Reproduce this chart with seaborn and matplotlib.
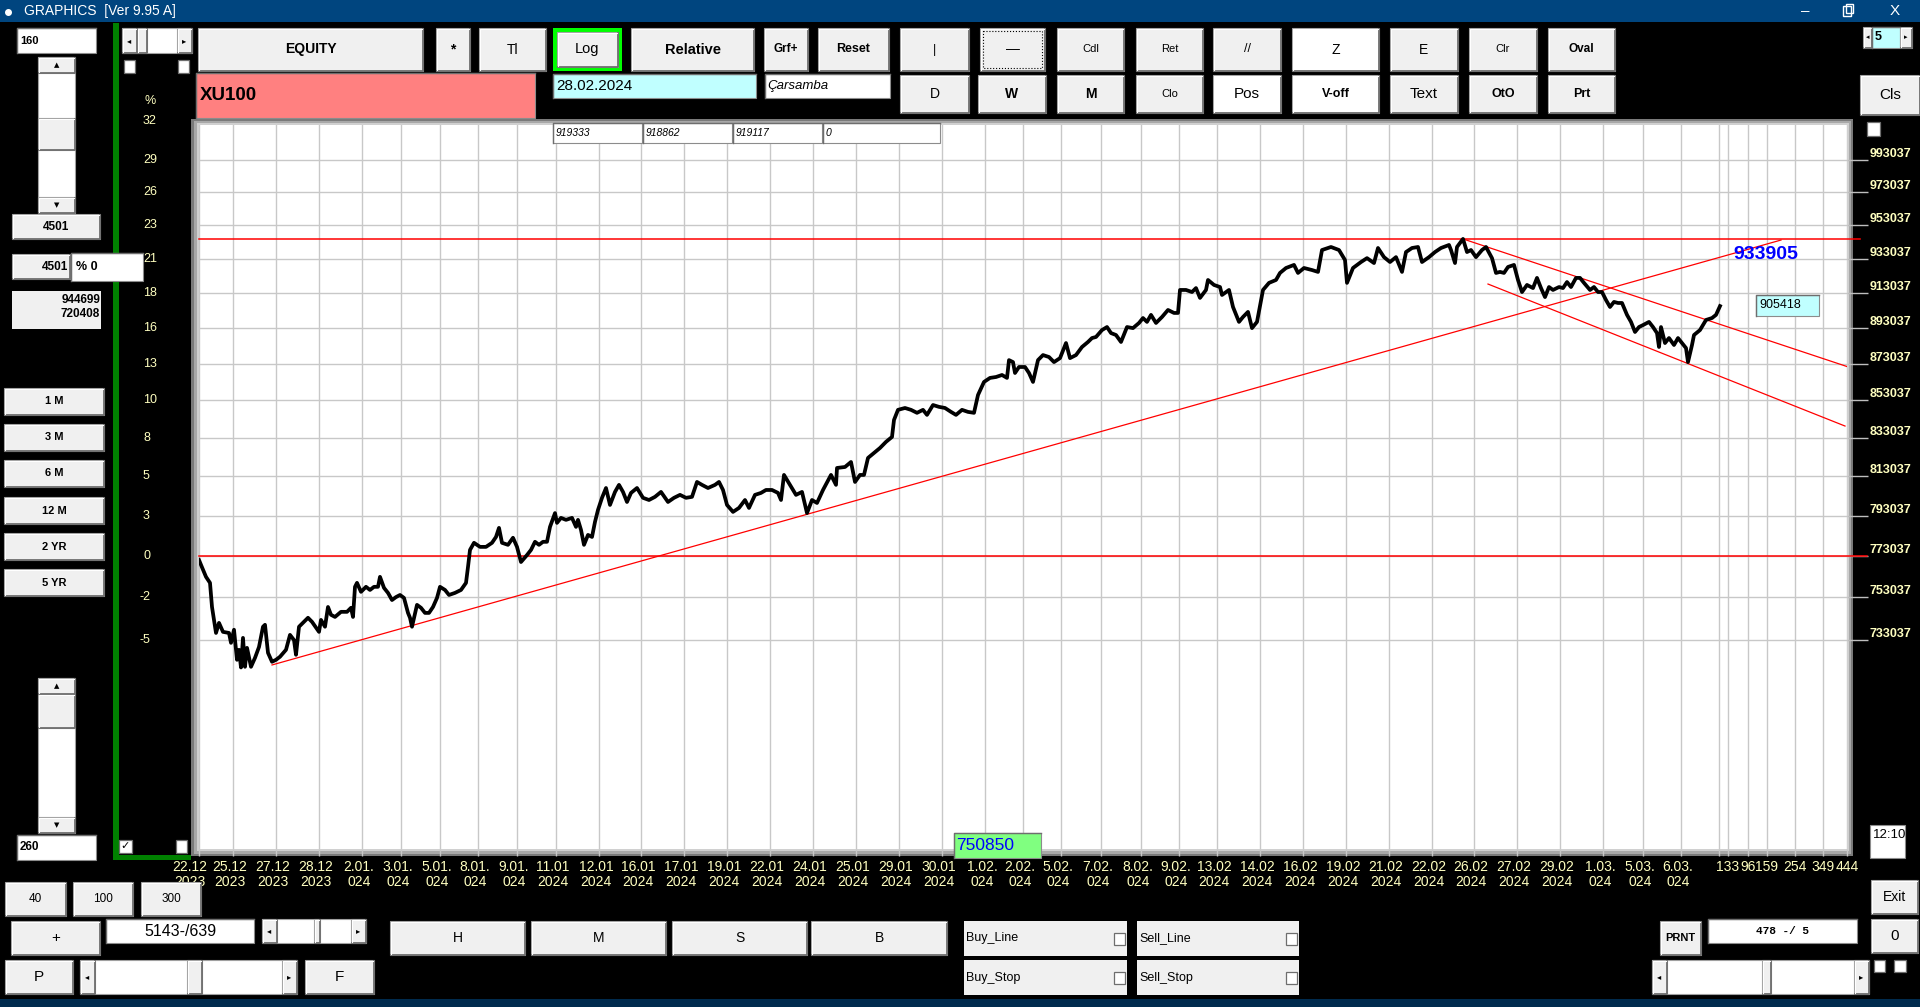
import numpy as np
import pandas as pd
import matplotlib
matplotlib.use('Agg')
import matplotlib.pyplot as plt
import matplotlib.transforms as mtransforms
from matplotlib.patches import Rectangle
from matplotlib.ticker import NullLocator, NullFormatter
import seaborn as sns

# ------------------------------------------------------------------ data
bar = [0, 2, 7, 11, 13, 17, 20, 24, 30, 32,
       35, 38, 40, 42, 44, 46, 48, 52, 56, 60,
       64, 66, 69, 73, 77, 81, 87, 91, 95, 97,
       100, 105, 109, 113, 120, 122, 126, 129, 132, 136,
       142, 148, 152, 154, 156, 158, 162, 167, 171, 175,
       179, 181, 185, 189, 193, 197, 201, 205, 209, 211,
       213, 218, 222, 226, 230, 234, 238, 241, 246, 250,
       256, 262, 267, 269, 271, 275, 281, 287, 293, 297,
       300, 303, 309, 314, 318, 322, 328, 332, 336, 340,
       344, 348, 351, 356, 358, 362, 367, 373, 377, 379,
       382, 385, 389, 393, 396, 399, 403, 407, 411, 416,
       420, 424, 428, 432, 438, 444, 450, 456, 462, 469,
       475, 481, 487, 493, 498, 503, 509, 516, 520, 524,
       528, 534, 540, 546, 550, 556, 562, 567, 573, 579,
       582, 585, 591, 597, 603, 608, 613, 618, 624, 632,
       637, 638, 646, 652, 656, 661, 665, 669, 675, 681,
       687, 693, 695, 699, 706, 712, 718, 724, 728, 734,
       740, 746, 752, 757, 763, 769, 775, 779, 785, 791,
       797, 803, 808, 810, 814, 816, 820, 826, 830, 834,
       839, 844, 850, 855, 861, 867, 871, 877, 883, 889,
       893, 897, 903, 908, 912, 917, 922, 928, 934, 940,
       944, 948, 952, 957, 963, 969, 975, 979, 981, 987,
       993, 997,
       1001, 1007, 1009, 1015, 1021, 1023, 1030, 1034, 1040, 1044,
       1049, 1053, 1058, 1064, 1070, 1077, 1081, 1087, 1095, 1099,
       1105, 1113, 1119, 1123, 1132, 1140, 1146, 1148, 1154, 1162,
       1168, 1175, 1179, 1185, 1191, 1197, 1203, 1207, 1213, 1219,
       1223, 1230, 1236, 1242, 1250, 1252, 1256, 1258, 1264, 1268,
       1272, 1277, 1283, 1287, 1293, 1297, 1301, 1305, 1309, 1315,
       1319, 1323, 1328, 1334, 1338, 1342, 1346, 1350, 1354, 1360,
       1364, 1368, 1372, 1377, 1381, 1385, 1391, 1395, 1399, 1403,
       1407, 1411, 1415, 1419, 1423, 1428, 1432, 1436, 1440, 1444,
       1450, 1454, 1458, 1460, 1462, 1466, 1470, 1475, 1479, 1483,
       1487, 1489, 1493, 1495, 1501, 1507, 1513, 1517, 1521]

price = [771100, 768700, 762900, 760000, 748500, 736300, 741000, 736800, 736300, 731700,
         737800, 723900, 728500, 720408, 734000, 720700, 729400, 720700, 724800, 729800,
         739200, 740100, 727100, 723000, 723900, 725300, 728500, 735400, 733000, 726200,
         739200, 741500, 743400, 741500, 736800, 742400, 739200, 748500, 744800, 743800,
         746200, 746200, 748100, 743800, 758100, 760000, 755700, 758100, 756600, 758100,
         758100, 762900, 757600, 755200, 751800, 753200, 754200, 752800, 745700, 743400,
         739200, 749500, 748100, 745700, 745700, 748500, 752800, 758100, 756600, 754200,
         755200, 756600, 760000, 767700, 776000, 779500, 777500, 777500, 779500, 782400,
         786900, 779500, 778500, 782000, 777500, 770100, 773500, 776000, 780000, 778500,
         780000, 780000, 787400, 794300, 789400, 791900, 790900, 791900, 787400, 790900,
         785900, 778500, 783400, 782400, 789900, 795900, 802000, 807000, 798400, 805000,
         808600, 805000, 799900, 804500, 807000, 802000, 800900, 802500, 805000, 799900,
         802000, 803500, 802000, 802500, 810100, 808600, 807000, 808600, 810100, 806000,
         798400, 794900, 796900, 800900, 796900, 803500, 804500, 806000, 806000, 804500,
         800900, 813700, 808600, 803500, 805000, 794300, 800900, 799400, 806000, 813700,
         808600, 817300, 817800, 820400, 810100, 813700, 813700, 822500, 825100, 827700,
         830900, 833500, 842500, 847900, 848900, 847900, 846300, 847900, 845200, 850500,
         849500, 848900, 846800, 845200, 847900, 846800, 846300, 855900, 863000, 865200,
         865700, 866800, 865200, 875000, 873900, 867900, 871200, 871200, 867900, 863000,
         875000, 877800, 876700, 873900, 876100, 884500, 876100, 877800, 882300, 885100,
         887300, 887900, 891800, 893500, 890100, 889000, 885100, 893500, 892900, 895800,
         898600, 896400, 900400, 895800, 899200, 903200, 901500, 901500, 914700, 914700,
         913500, 915800,
         910100, 914700, 920500, 917600, 916400, 911800, 914700, 904900, 896400, 899200,
         902100, 892900, 896400, 914700, 918800, 920500, 924600, 927500, 929300, 924600,
         927500, 926300, 925200, 938100, 939900, 938100, 932200, 918800, 927500, 931000,
         933300, 930400, 939300, 933900, 931000, 933900, 925200, 936900, 939300, 939900,
         931000, 933900, 936900, 939300, 941100, 938100, 930400, 939900, 944699, 936900,
         938100, 933900, 938100, 939900, 933300, 924600, 925200, 924600, 928100, 929300,
         920500, 913500, 917600, 915800, 921700, 915800, 910600, 916400, 914700, 916400,
         915800, 919300, 916400, 921700, 921700, 918800, 914700, 916400, 913500, 913500,
         908900, 904900, 907800, 907200, 907200, 900400, 896400, 890700, 893500, 894600,
         896400, 893500, 890100, 882300, 893500, 884500, 887300, 883400, 887300, 884500,
         881700, 873900, 883400, 889000, 891800, 897500, 898600, 900400, 905418]

date_ticks = [0, 34, 77, 120, 163, 202, 241, 279, 318, 357, 400, 442, 485, 528, 571,
              614, 657, 700, 743, 786, 824, 862, 902, 942, 980, 1018, 1061, 1104,
              1147, 1190, 1233, 1275, 1318, 1361, 1404, 1444, 1482]
date_labels = ['22.12\n2023', '25.12\n2023', '27.12\n2023', '28.12\n2023',
               '2.01.\n024', '3.01.\n024', '5.01.\n024', '8.01.\n024', '9.01.\n024',
               '11.01\n2024', '12.01\n2024', '16.01\n2024', '17.01\n2024', '19.01\n2024',
               '22.01\n2024', '24.01\n2024', '25.01\n2024', '29.01\n2024', '30.01\n2024',
               '1.02.\n024', '2.02.\n024', '5.02.\n024', '7.02.\n024', '8.02.\n024', '9.02.\n024',
               '13.02\n2024', '14.02\n2024', '16.02\n2024', '19.02\n2024', '21.02\n2024',
               '22.02\n2024', '26.02\n2024', '27.02\n2024', '29.02\n2024',
               '1.03.\n024', '5.03.\n024', '6.03.\n024']
future_ticks = [1520, 1529, 1549, 1568, 1596, 1624, 1648]
future_labels = ['', '133', '96', '159', '254', '349', '444']

price_levels = [993037, 973037, 953037, 933037, 913037, 893037, 873037, 853037,
                833037, 813037, 793037, 773037, 753037, 733037]
pct_levels = [1017800, 993037, 973037, 953037, 933037, 913037, 893037, 873037, 853037,
              833037, 813037, 793037, 773037, 753037, 733037]
pct_labels = ['32', '29', '26', '23', '21', '18', '16', '13', '10', '8', '5', '3', '0', '-2', '-5']

hline_levels = [773037, 944699]
hline_end = [1668, 1661]
trend_x = [[73, 1582], [1264, 1648], [1289, 1646]]
trend_y = [[721540, 944040], [944699, 871450], [918130, 839260]]

mark_value = '933905'
mark_pos = (1567, 935500)
last_value = '905418'
low_box_value = '750850'
max_min = ('944699', '720408')
top_boxes = ['919333', '918862', '919117', '0']

# ------------------------------------------------------------------ setup
NARROW = ['Liberation Sans Narrow', 'Liberation Sans', 'DejaVu Sans']
SANS = ['Liberation Sans', 'DejaVu Sans']
MONO = ['Liberation Mono', 'DejaVu Sans Mono']
plt.rcParams['font.family'] = SANS
YEL = '#FFFFC0'

W, H = 1920, 1007
fig = plt.figure(figsize=(19.2, 10.07), dpi=100, facecolor='black')

bg = fig.add_axes([0, 0, 1, 1], zorder=0)
bg.set_xlim(0, W); bg.set_ylim(H, 0); bg.axis('off')

ax = fig.add_axes([199 / W, 1 - 849 / H, (1847 - 199) / W, (849 - 125) / H], zorder=2)
ov = fig.add_axes([0, 0, 1, 1], zorder=5)
ov.patch.set_alpha(0); ov.axis('off')


def R(a, x0, y0, x1, y1, fc, ec='none', lw=0, z=1, ls='-'):
    a.add_patch(Rectangle((x0, y0), x1 - x0, y1 - y0, facecolor=fc, edgecolor=ec,
                          linewidth=lw, zorder=z, linestyle=ls))


def button(x0, y0, x1, y1, label='', fs=9, bold=False, fc='#F0F0F0', fam=None, tc='black'):
    R(ov, x0, y0, x1, y1, fc, '#A0A0A0', 0.8, z=2)
    ov.plot([x0, x1, x1], [y1, y1, y0], color='#6E6E6E', lw=1.3, zorder=3, solid_capstyle='butt')
    ov.plot([x0 + 1, x0 + 1, x1 - 1], [y1 - 1, y0 + 1, y0 + 1], color='white', lw=0.8, zorder=3)
    if label:
        ov.text((x0 + x1) / 2, (y0 + y1) / 2, label, ha='center', va='center', fontsize=fs,
                fontweight='bold' if bold else 'normal', family=fam or NARROW, color=tc, zorder=4)


def tbox(x0, y0, x1, y1, text='', fc='white', fs=8, bold=False, fam=None, tx=None,
         ha='left', style='normal', tc='black'):
    R(ov, x0, y0, x1, y1, fc, '#8C8C8C', 0.8, z=2)
    ov.plot([x0, x0, x1], [y1, y0, y0], color='#6E6E6E', lw=1.0, zorder=3)
    if text:
        ov.text(tx if tx is not None else x0 + 3, (y0 + y1) / 2, text, ha=ha, va='center',
                fontsize=fs, fontweight='bold' if bold else 'normal', family=fam or SANS,
                style=style, color=tc, zorder=4)


def checkbox(x0, y0, x1, y1, checked=False):
    R(ov, x0, y0, x1, y1, 'white', '#6E6E6E', 0.9, z=3)
    if checked:
        ov.text((x0 + x1) / 2, (y0 + y1) / 2, '\u2713', ha='center', va='center',
                fontsize=8, family=['DejaVu Sans'], color='black', zorder=4)


def vscroll(x0, y0, x1, y1, t0, t1):
    R(ov, x0, y0, x1, y1, 'white', '#A0A0A0', 0.8, z=2)
    button(x0, y0, x1, y0 + 16, '\u25B2', fs=5, fam=['DejaVu Sans'])
    button(x0, y1 - 16, x1, y1, '\u25BC', fs=5, fam=['DejaVu Sans'])
    button(x0, t0, x1, t1)


def hscroll(x0, y0, x1, y1, t0, t1):
    R(ov, x0, y0, x1, y1, 'white', '#A0A0A0', 0.8, z=2)
    button(x0, y0, x0 + 15, y1, '\u25C2', fs=6, fam=['DejaVu Sans'])
    button(x1 - 15, y0, x1, y1, '\u25B8', fs=6, fam=['DejaVu Sans'])
    button(t0, y0, t1, y1)


# ------------------------------------------------------------------ background chrome
R(bg, 0, 0, W, 22, '#00457F')
R(bg, 0, 999, W, H, '#002B4E')
R(bg, 113, 23, 119, 860, '#008000')
R(bg, 113, 855, 191, 860, '#008000')
# beveled chart frame
R(bg, 191, 119, 1853, 856, '#7A7A7A')
R(bg, 194, 121, 1851, 854, '#A8A8A8')
R(bg, 197, 123, 1849, 851, '#D0D0D0')

bg.plot([8], [12], 'o', color='white', ms=4)
bg.text(24, 11, 'GRAPHICS  [Ver 9.95 A]', color='white', fontsize=10, va='center', family=NARROW)
bg.text(1805, 11, '\u2013', color='white', fontsize=11, va='center', ha='center')
R(bg, 1843, 6, 1851, 16, 'none', 'white', 1.0)
R(bg, 1846, 4, 1853, 13, 'none', 'white', 1.0)
bg.text(1895, 11, 'X', color='white', fontsize=11, va='center', ha='center', family=NARROW)

# ------------------------------------------------------------------ main chart
df = pd.DataFrame({'bar': bar, 'price': price})
sns.lineplot(data=df, x='bar', y='price', ax=ax, color='black', linewidth=2.7,
             sort=False, estimator=None, zorder=4)
ax.set_yscale('log')
ax.set_xlim(0, 1648)
ax.set_ylim(642250, 1015300)
ax.set_facecolor('white')
for s in ax.spines.values():
    s.set_visible(False)
ax.set_xlabel(''); ax.set_ylabel('')

for lvl, xe in zip(hline_levels, hline_end):
    ax.plot([0, xe], [lvl, lvl], color='#FF0000', lw=1.1, clip_on=False, zorder=3)
for xs, ys in zip(trend_x, trend_y):
    ax.plot(xs, ys, color='#FF0000', lw=0.9, zorder=3)

ax.text(mark_pos[0], mark_pos[1], mark_value, color='#0000FF', fontsize=14,
        fontweight='bold', ha='center', va='center', family=SANS, zorder=6)

# y axis (right): price levels
ax.yaxis.tick_right()
ax.set_yticks(price_levels)
ax.set_yticklabels([str(v) for v in price_levels])
ax.yaxis.set_minor_locator(NullLocator())
ax.yaxis.set_minor_formatter(NullFormatter())
ax.tick_params(axis='y', which='major', length=15, width=1, color='#BEBEBE', pad=1.5,
               labelsize=9, labelcolor=YEL)
for lbl in ax.get_yticklabels():
    lbl.set_fontweight('bold'); lbl.set_va('bottom'); lbl.set_family(SANS)

# x axis: dates + projection ticks
ax.set_xticks(date_ticks + future_ticks)
ax.set_xticklabels(date_labels + future_labels)
ax.tick_params(axis='x', which='major', length=5, width=1, color='#C8C8C8', pad=3,
               labelsize=10, labelcolor=YEL)
ax.grid(True, color='#C8C8C8', lw=1, zorder=0)
ax.set_axisbelow(True)
for i, lbl in enumerate(ax.get_xticklabels()):
    lbl.set_family(NARROW); lbl.set_linespacing(1.05)
    if i < len(date_ticks):
        dx = -9 if i == 0 else -3
        lbl.set_transform(lbl.get_transform() +
                          mtransforms.ScaledTranslation(dx / 100, 0, fig.dpi_scale_trans))

# left % scale
trans = mtransforms.blended_transform_factory(bg.transData, ax.transData)
for lvl, lab in zip(pct_levels, pct_labels):
    ax.text(140 if lab.startswith('-') else 143, lvl, lab, transform=trans, ha='left',
            va='center', color=YEL, fontsize=9, family=SANS)
bg.text(150, 101, '%', color=YEL, fontsize=9, ha='center', va='center')

# ------------------------------------------------------------------ UI overlay
# top row buttons
row1 = [('EQUITY', 198, 423, True, 10), ('*', 436, 470, True, 10), ('Tl', 479, 546, False, 10),
        ('Relative', 631, 754, True, 10.5), ('Grf+', 764, 808, True, 8.5),
        ('Reset', 818, 889, True, 9), ('|', 900, 969, False, 9), ('\u2014', 980, 1045, False, 10),
        ('Cdl', 1057, 1124, False, 8), ('Ret', 1136, 1203, False, 8), ('//', 1213, 1281, False, 9),
        ('Z', 1292, 1379, False, 10), ('E', 1390, 1458, False, 10), ('Clr', 1469, 1537, False, 8),
        ('Oval', 1548, 1615, True, 8.5)]
for lab, x0, x1, b, fs in row1:
    button(x0, 28, x1, 71, lab, fs=fs, bold=b, fc='white' if lab == 'Z' else '#F0F0F0')
R(ov, 983, 31, 1042, 68, 'none', 'black', 0.8, z=4, ls=':')
R(ov, 553, 28, 622, 71, '#00FF00', z=2)
button(557, 32, 618, 67, 'Log', fs=10.5)

row2 = [('D', 900, 969, False, 10), ('W', 978, 1046, True, 10), ('M', 1057, 1124, True, 10),
        ('Clo', 1136, 1203, False, 8), ('Pos', 1213, 1281, False, 11),
        ('V-off', 1292, 1379, True, 9), ('Text', 1390, 1458, False, 11),
        ('OtO', 1469, 1537, True, 9), ('Prt', 1548, 1615, True, 9)]
for lab, x0, x1, b, fs in row2:
    button(x0, 75, x1, 113, lab, fs=fs, bold=b,
           fc='white' if lab in ('Pos', 'V-off') else '#F0F0F0')
button(1860, 75, 1920, 115, 'Cls', fs=11)

# spin "5"
button(1863, 27, 1872, 48, '\u25C2', fs=5, fam=['DejaVu Sans'])
tbox(1872, 27, 1900, 48, '5', fc='#C0FFFF', fs=9, bold=True)
button(1900, 27, 1912, 48, '\u25B8', fs=5, fam=['DejaVu Sans'])
checkbox(1867, 122, 1880, 136)

# info boxes
tbox(196, 73, 535, 118, 'XU100', fc='#FF8080', fs=13.5, bold=True, tx=200)
ov.text(200, 88, '', fontsize=1)
tbox(553, 74, 756, 98, '28.02.2024', fc='#C0FFFF', fs=11, tx=556)
tbox(765, 74, 890, 98, '\u00C7arsamba', fc='white', fs=9.5, style='italic', tx=767)
for i, t in enumerate(top_boxes):
    x0 = 553 + 90 * i
    x1 = 940 if i == 3 else x0 + 89
    tbox(x0, 123, x1, 143, t, fs=7.5, style='italic', tx=x0 + 3)

# left panel
tbox(17, 28, 96, 53, '160', fs=8, bold=True, tx=20)
hscroll(122, 28, 192, 53, 137, 147)
checkbox(124, 60, 135, 73)
checkbox(178, 60, 189, 73)
vscroll(38, 57, 75, 213, 118, 150)
button(12, 214, 100, 239, '4501', fs=8.5, bold=True, fam=SANS)
button(12, 254, 70, 279)
ov.text(68, 266.5, '4501', ha='right', va='center', fontsize=8.5, fontweight='bold', zorder=5)
tbox(71, 253, 143, 281, '% 0', fs=9, bold=True, tx=76)
R(ov, 12, 291, 101, 329, '#F0F0F0', z=2)
ov.text(100, 300, max_min[0], ha='right', va='center', fontsize=8.5, fontweight='bold', zorder=4)
ov.text(100, 314, max_min[1], ha='right', va='center', fontsize=8.5, fontweight='bold', zorder=4)
for lab, y0 in zip(['1 M', '3 M', '6 M', '12 M', '2 YR', '5 YR'], [388, 424, 460, 497, 533, 569]):
    button(4, y0, 104, y0 + 27, lab, fs=8, bold=True, fam=SANS)
vscroll(38, 678, 75, 833, 694, 728)
tbox(17, 835, 96, 860, '260', fs=8.5, bold=True, fam=NARROW, tx=20)
checkbox(119, 840, 132, 853, checked=True)
checkbox(176, 840, 187, 853)

# bottom controls
button(5, 882, 66, 916, '40', fs=8.5)
button(73, 882, 133, 916, '100', fs=8.5)
button(141, 882, 201, 916, '300', fs=8.5)
button(11, 921, 100, 955, '+', fs=11)
tbox(106, 919, 254, 943, '5143-/639', fs=11.5, fam=NARROW, tx=180, ha='center')
hscroll(262, 919, 366, 943, 314, 320)
for lab, x0, x1 in [('H', 390, 525), ('M', 531, 666), ('S', 672, 807), ('B', 811, 947)]:
    button(x0, 921, x1, 955, lab, fs=10)
button(5, 960, 73, 994, 'P', fs=11)
hscroll(80, 960, 297, 994, 187, 202)
button(305, 960, 374, 994, 'F', fs=11)

for lab, x0, x1, y0, y1 in [('Buy_Line', 964, 1127, 921, 956), ('Sell_Line', 1137, 1299, 921, 956),
                            ('Buy_Stop', 964, 1127, 960, 995), ('Sell_Stop', 1137, 1299, 960, 995)]:
    R(ov, x0, y0, x1, y1, '#F0F0F0', z=2)
    ov.text(x0 + 2, (y0 + y1) / 2, lab, ha='left', va='center', fontsize=9, family=NARROW, zorder=4)
    checkbox(x1 - 13, (y0 + y1) / 2 - 6, x1 - 2, (y0 + y1) / 2 + 6)

tbox(954, 833, 1041, 858, low_box_value, fc='#80FF80', fs=12.5, tc='#0000FF', tx=956)
tbox(1756, 295, 1819, 316, last_value, fc='#C0FFFF', fs=9, tx=1759)

button(1660, 921, 1701, 955, 'PRNT', fs=8, bold=True)
tbox(1708, 919, 1857, 943, '478 -/ 5', fs=8, bold=True, fam=MONO, tx=1783, ha='center')
button(1871, 919, 1918, 953, '0', fs=11)
button(1871, 880, 1918, 914, 'Exit', fs=10)
R(ov, 1870, 825, 1905, 858, 'white', '#8C8C8C', 0.8, z=2)
ov.text(1873, 835, '12:10', ha='left', va='center', fontsize=9.5, family=NARROW, zorder=4)
checkbox(1874, 960, 1885, 972)
checkbox(1894, 960, 1906, 972)
hscroll(1652, 960, 1869, 994, 1762, 1771)

ov.set_xlim(0, W); ov.set_ylim(H, 0)
bg.set_xlim(0, W); bg.set_ylim(H, 0)

fig.savefig('out.png', dpi=100, facecolor='black')
